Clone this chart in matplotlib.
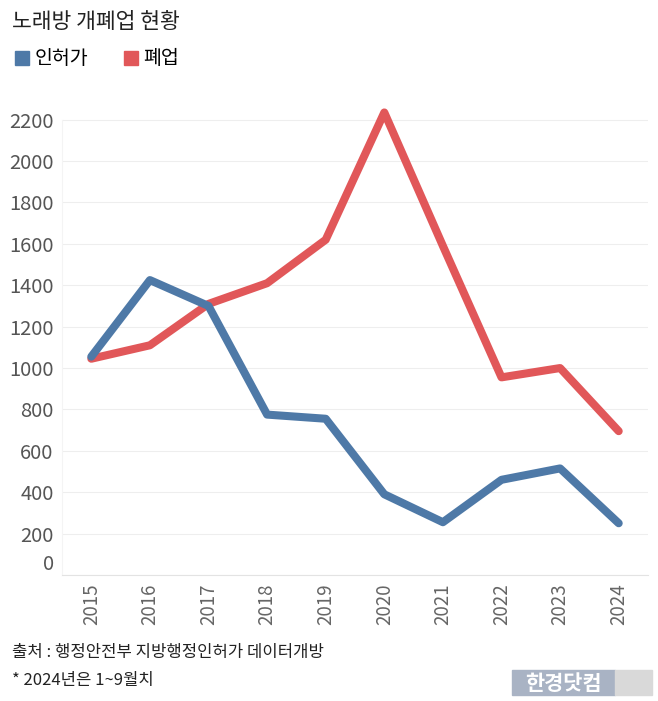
import matplotlib
matplotlib.use("Agg")
import matplotlib.pyplot as plt
from matplotlib.lines import Line2D
from matplotlib.patches import Rectangle
from matplotlib.transforms import ScaledTranslation

plt.rcParams['font.family'] = ['Noto Sans CJK KR', 'DejaVu Sans']

years = ["2015", "2016", "2017", "2018", "2019", "2020", "2021", "2022", "2023", "2024"]
permits = [1055, 1425, 1300, 775, 755, 390, 255, 460, 515, 250]
closures = [1045, 1110, 1310, 1410, 1620, 2235, 1590, 955, 1000, 695]
y_ticks = [0, 200, 400, 600, 800, 1000, 1200, 1400, 1600, 1800, 2000, 2200]

blue = "#4e79a7"
red = "#e15759"

W, H = 658, 701
fig = plt.figure(figsize=(W / 100, H / 100), dpi=100)
ax = fig.add_axes([62 / W, 1 - 575 / H, (648 - 62) / W, (575 - 99) / H])

x = list(range(len(years)))
ax.plot(x, closures, color=red, lw=5.8, solid_capstyle="round", solid_joinstyle="round", zorder=3)
ax.plot(x, permits, color=blue, lw=5.8, solid_capstyle="round", solid_joinstyle="round", zorder=4)

ax.set_xlim(-0.5, len(years) - 0.5)
ax.set_ylim(0, 2300)
ax.set_yticks(y_ticks)
ax.set_yticklabels([str(v) for v in y_ticks])
ax.set_xticks(x)
ax.set_xticklabels(years, rotation=90)
ax.tick_params(axis="y", length=0, pad=6, labelsize=14.5, labelcolor="#555555")
ax.tick_params(axis="x", length=0, pad=6, labelsize=13.5, labelcolor="#666666")
ax.grid(axis="y", color="#eeeeee", lw=0.8)
ax.set_axisbelow(True)
for s in ["top", "right"]:
    ax.spines[s].set_visible(False)
ax.spines["left"].set_color("#f4f4f4")
ax.spines["left"].set_bounds(0, 2200)
ax.spines["bottom"].set_color("#e3e3e3")

# the zero label sits a bit above its line
zero_lab = ax.get_yticklabels()[0]
zero_lab.set_transform(zero_lab.get_transform() + ScaledTranslation(0, 13 / 100, fig.dpi_scale_trans))

fig.text(12 / W, 1 - 22 / H, "노래방 개폐업 현황", fontsize=15.5, color="#222222", va="center", ha="left")

handles = [
    Line2D([], [], marker="s", ls="none", markersize=9.5, color=blue),
    Line2D([], [], marker="s", ls="none", markersize=9.5, color=red),
]
fig.legend(handles, ["인허가", "폐업"], loc="center left", bbox_to_anchor=(14 / W, 1 - 59 / H),
           ncol=2, frameon=False, fontsize=14, handletextpad=0.25, columnspacing=1.8,
           handlelength=0.8, borderpad=0, borderaxespad=0)

fig.text(12 / W, 1 - 653 / H, "출처 : 행정안전부 지방행정인허가 데이터개방", fontsize=12, color="#222222",
         va="center", ha="left")
fig.text(12 / W, 1 - 680 / H, "* 2024년은 1~9월치", fontsize=12, color="#222222", va="center", ha="left")

fig.patches.append(Rectangle((512 / W, 1 - 695 / H), (615 - 512) / W, 25 / H, transform=fig.transFigure,
                             color="#a9b3c4", zorder=0))
fig.patches.append(Rectangle((615 / W, 1 - 695 / H), (652 - 615) / W, 25 / H, transform=fig.transFigure,
                             color="#d9d9d9", zorder=0))
fig.text(563 / W, 1 - 683 / H, "한경닷컴", fontsize=15, color="white", fontweight="bold",
         va="center", ha="center")

fig.savefig("out.png", dpi=100)
